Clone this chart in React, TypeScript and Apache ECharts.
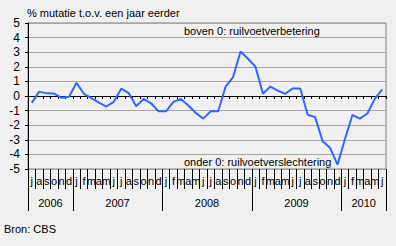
import React, { useEffect, useRef } from "react";
import * as echarts from "echarts";

const monthLetters = [
  "j", "a", "s", "o", "n", "d",
  "j", "f", "m", "a", "m", "j", "j", "a", "s", "o", "n", "d",
  "j", "f", "m", "a", "m", "j", "j", "a", "s", "o", "n", "d",
  "j", "f", "m", "a", "m", "j", "j", "a", "s", "o", "n", "d",
  "j", "f", "m", "a", "m", "j",
];
const years = ["2006", "2007", "2008", "2009", "2010"];
const monthsPerYear = [6, 12, 12, 12, 6];
const values = [
  -0.47, 0.3, 0.18, 0.17, -0.12, -0.05,
  0.9, 0.15, -0.15, -0.45, -0.72, -0.4, 0.5, 0.2, -0.7, -0.2, -0.5, -1.05,
  -1.05, -0.4, -0.2, -0.65, -1.16, -1.55, -1.05, -1.05, 0.65, 1.3, 3.05, 2.55,
  2.0, 0.15, 0.65, 0.36, 0.15, 0.52, 0.52, -1.28, -1.45, -3.1, -3.55, -4.7,
  -2.95, -1.3, -1.55, -1.2, -0.2, 0.45,
];
const yTicks = [-5, -4, -3, -2, -1, 0, 1, 2, 3, 4, 5];

const FONT = "Arial, 'Liberation Sans', sans-serif";

export default function App() {
  const ref = useRef<HTMLDivElement>(null);
  useEffect(() => {
    document.body.style.margin = "0";
    if (!ref.current) return;
    const chart = echarts.init(ref.current, null, { renderer: "svg" });
    const bounds: number[] = [0];
    monthsPerYear.forEach((n) => bounds.push(bounds[bounds.length - 1] + n));
    const centers = years.map((_, i) => (bounds[i] + bounds[i + 1]) / 2);
    const cats = monthLetters.map((_, i) => String(i));

    chart.setOption({
      animation: false,
      backgroundColor: "#f0f0f0",
      textStyle: { fontFamily: FONT },
      grid: {
        left: 28,
        top: 23,
        width: 358,
        height: 146,
        show: true,
        borderColor: "#808080",
        borderWidth: 1,
        backgroundColor: "transparent",
      },
      xAxis: [
        {
          type: "category",
          data: cats,
          position: "bottom",
          boundaryGap: true,
          axisLine: { show: true, onZero: true, lineStyle: { color: "#000", width: 1 } },
          axisTick: { show: true, length: 3, interval: 0, lineStyle: { color: "#000" } },
          axisLabel: { show: false },
          splitLine: { show: false },
        },
        {
          type: "category",
          data: cats,
          position: "bottom",
          boundaryGap: true,
          axisLine: { show: false, onZero: false },
          axisTick: { show: true, length: 20, interval: 0, lineStyle: { color: "#000" } },
          axisLabel: {
            show: true,
            interval: 0,
            margin: 6,
            fontSize: 11,
            color: "#000",
            fontFamily: FONT,
            formatter: (v: string) => monthLetters[Number(v)],
          },
          splitLine: { show: false },
        },
        {
          type: "value",
          min: bounds[0],
          max: bounds[bounds.length - 1],
          position: "bottom",
          axisLine: { show: false, onZero: false },
          axisTick: {
            show: true,
            length: 42,
            customValues: bounds,
            lineStyle: { color: "#000" },
          },
          axisLabel: {
            show: true,
            customValues: centers,
            margin: 28,
            fontSize: 11,
            color: "#000",
            fontFamily: FONT,
            formatter: (v: number) => years[centers.indexOf(v)] ?? "",
          },
          splitLine: { show: false },
        },
      ],
      yAxis: {
        type: "value",
        min: yTicks[0],
        max: yTicks[yTicks.length - 1],
        interval: 1,
        axisLine: { show: true, onZero: false, lineStyle: { color: "#000", width: 1 } },
        axisTick: { show: true, length: 3, lineStyle: { color: "#000" } },
        axisLabel: { margin: 8, fontSize: 12, color: "#000", fontFamily: FONT },
        splitLine: { show: true, lineStyle: { color: "#a6a6a6", width: 1 } },
      },
      series: [
        {
          type: "line",
          xAxisIndex: 0,
          data: values,
          showSymbol: false,
          symbol: "none",
          lineStyle: { color: "#3366ff", width: 2 },
          z: 5,
        },
      ],
      graphic: [
        {
          type: "text",
          x: 27,
          y: 13,
          style: {
            text: "% mutatie t.o.v. een jaar eerder",
            font: `11px ${FONT}`,
            fill: "#000",
            textVerticalAlign: "middle",
          },
        },
        {
          type: "text",
          x: 184,
          y: 31,
          z: 10,
          style: {
            text: "boven 0: ruilvoetverbetering",
            font: `11px ${FONT}`,
            fill: "#000",
            textVerticalAlign: "middle",
          },
        },
        {
          type: "text",
          x: 184,
          y: 162,
          z: 10,
          style: {
            text: "onder 0: ruilvoetverslechtering",
            font: `11px ${FONT}`,
            fill: "#000",
            textVerticalAlign: "middle",
          },
        },
        {
          type: "text",
          x: 4,
          y: 229,
          style: {
            text: "Bron: CBS",
            font: `11px ${FONT}`,
            fill: "#000",
            textVerticalAlign: "middle",
          },
        },
      ],
    });
    return () => chart.dispose();
  }, []);
  return <div ref={ref} style={{ width: 396, height: 246 }} />;
}
